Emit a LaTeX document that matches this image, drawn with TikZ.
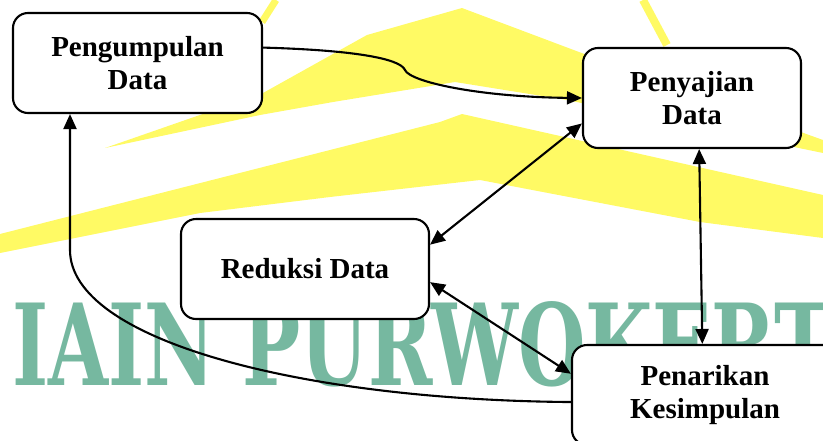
\documentclass[tikz,border=0pt]{standalone}
\usepackage{fontspec}
\usepackage{graphicx}
\setmainfont{Liberation Serif}
\newfontfamily\markfont{DejaVu Serif}
\usetikzlibrary{arrows.meta}
\definecolor{logoyellow}{RGB}{255,250,100}
\definecolor{logoteal}{RGB}{118,184,160}
\tikzset{box/.style={draw,fill=white,rounded corners=15pt,line width=2.1pt,
		align=center,inner sep=0pt,minimum height=100pt,
		font=\fontsize{29}{33}\selectfont\bfseries},
	arrowline/.style={line width=2.1pt,-{Triangle[length=15pt,width=13pt]}},
	twoway/.style={line width=2.1pt,{Triangle[length=15pt,width=13pt]}-{Triangle[length=15pt,width=13pt]}}}

\begin{document}
\begin{tikzpicture}
	[x=1pt,y=-1pt]
	\useasboundingbox (0,0) rectangle (823,440);
	\clip (0,0) rectangle (823,440);
	\fill[logoyellow] (105,148) -- (263,93) -- (367,35) -- (462,8) -- (587,55) -- (823,140)
		-- (823,153) -- (567,100) -- (455,82) -- (333,102) -- (260,115) -- cycle;
	\fill[logoyellow] (0,234) -- (440,122) -- (462,114) -- (823,195) -- (823,238)
		-- (700,222) -- (480,180) -- (330,197) -- (200,213) -- (0,253) -- cycle;
	\draw[logoyellow,line width=7pt] (262,22) -- (276,0);
	\draw[logoyellow,line width=8pt] (643,0) -- (667,45);
	\node[anchor=south west,inner sep=0pt,text=logoteal] (mark) at (12,387)
		{\resizebox{820pt}{84pt}{\markfont\bfseries IAIN PURWOKERT}};
	\node[box,minimum width=249pt] (pengumpulan) at (137.5,63) {Pengumpulan\\Data};
	\node[box,minimum width=218pt] (penyajian) at (692,98) {Penyajian\\Data};
	\node[box,minimum width=248pt] (reduksi) at (305,269) {Reduksi Data};
	\node[box,minimum width=266pt] (penarikan) at (705,395) {Penarikan\\Kesimpulan};
	\coordinate (kink) at (405,70);
	\coordinate (turn) at (70,250);
	\draw[arrowline] (pengumpulan.7) .. controls (350,50) and (400,58) .. (kink)
		.. controls (410,82) and (480,97) .. (penyajian.west);
	\draw[twoway] (penyajian.193) -- (reduksi.11);
	\draw[twoway] (reduksi.-6) -- (penarikan.171);
	\draw[twoway] (penyajian.-82) -- (penarikan.93);
	\draw[arrowline] (penarikan.183) .. controls (300,400) and (70,340) .. (turn)
		-- (turn |- pengumpulan.south);
\end{tikzpicture}
\end{document}
